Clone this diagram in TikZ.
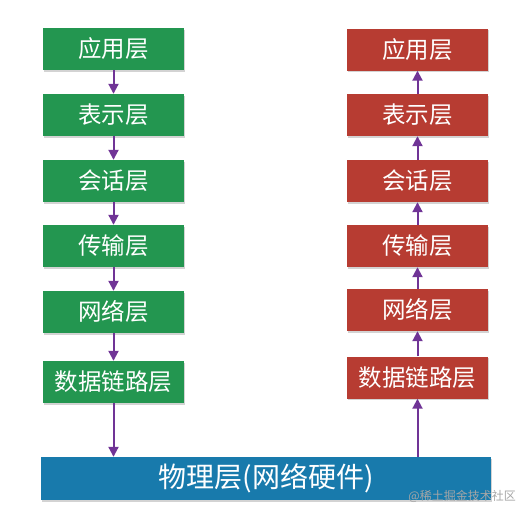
\documentclass[tikz,border=0pt]{standalone}
\usepackage{fontspec}
\setmainfont{Noto Sans CJK SC}
\newfontfamily\cjk{Noto Sans CJK SC}
\usetikzlibrary{arrows.meta,shadows}
\definecolor{lgreen}{RGB}{35,150,80}
\definecolor{lred}{RGB}{183,60,50}
\definecolor{lblue}{RGB}{24,122,172}
\definecolor{apurple}{RGB}{112,52,150}
\tikzset{
  layer/.style={minimum width=141pt, minimum height=42pt, inner sep=0pt, text=white,
    font=\cjk\fontsize{23.5}{23.5}\selectfont,
    drop shadow={shadow xshift=1pt, shadow yshift=-1.5pt, opacity=.35, fill=gray}},
  gbox/.style={layer, fill=lgreen},
  rbox/.style={layer, fill=lred},
  conn/.style={draw=apurple, line width=2pt, -{Triangle[length=10pt,width=10pt]}}
}
\begin{document}
\begin{tikzpicture}[x=1pt,y=-1pt]
\useasboundingbox (0,0) rectangle (528,517);
% left stack (green)
\node[gbox] (l1) at (113.5,49) {应用层};
\node[gbox] (l2) at (113.5,115) {表示层};
\node[gbox] (l3) at (113.5,181) {会话层};
\node[gbox] (l4) at (113.5,246) {传输层};
\node[gbox] (l5) at (113.5,312) {网络层};
\node[gbox] (l6) at (113.5,382) {数据链路层};
% right stack (red)
\node[rbox] (r1) at (417.5,49.5) {应用层};
\node[rbox] (r2) at (417.5,115) {表示层};
\node[rbox] (r3) at (417.5,181) {会话层};
\node[rbox] (r4) at (417.5,246) {传输层};
\node[rbox] (r5) at (417.5,310) {网络层};
\node[rbox] (r6) at (417.5,377.5) {数据链路层};
% bottom bar
\node[layer, fill=lblue, minimum width=450pt, minimum height=43pt, font=\cjk\fontsize{28}{28}\selectfont] (phy) at (266,478.5) {物理层(网络硬件)};
% left arrows (down)
\draw[conn] (l1) -- (l2);
\draw[conn] (l2) -- (l3);
\draw[conn] (l3) -- (l4);
\draw[conn] (l4) -- (l5);
\draw[conn] (l5) -- (l6);
\draw[conn] (l6.south) -- (l6.south |- phy.north);
% right arrows (up)
\draw[conn] (r6) -- (r5);
\draw[conn] (r5) -- (r4);
\draw[conn] (r4) -- (r3);
\draw[conn] (r3) -- (r2);
\draw[conn] (r2) -- (r1);
\draw[conn] (r6.south |- phy.north) -- (r6.south);
% watermark
\node[anchor=east, text=gray!70, inner sep=0pt, font=\cjk\fontsize{12}{12}\selectfont] (wm) at (516,496) {@稀土掘金技术社区};
\end{tikzpicture}
\end{document}
